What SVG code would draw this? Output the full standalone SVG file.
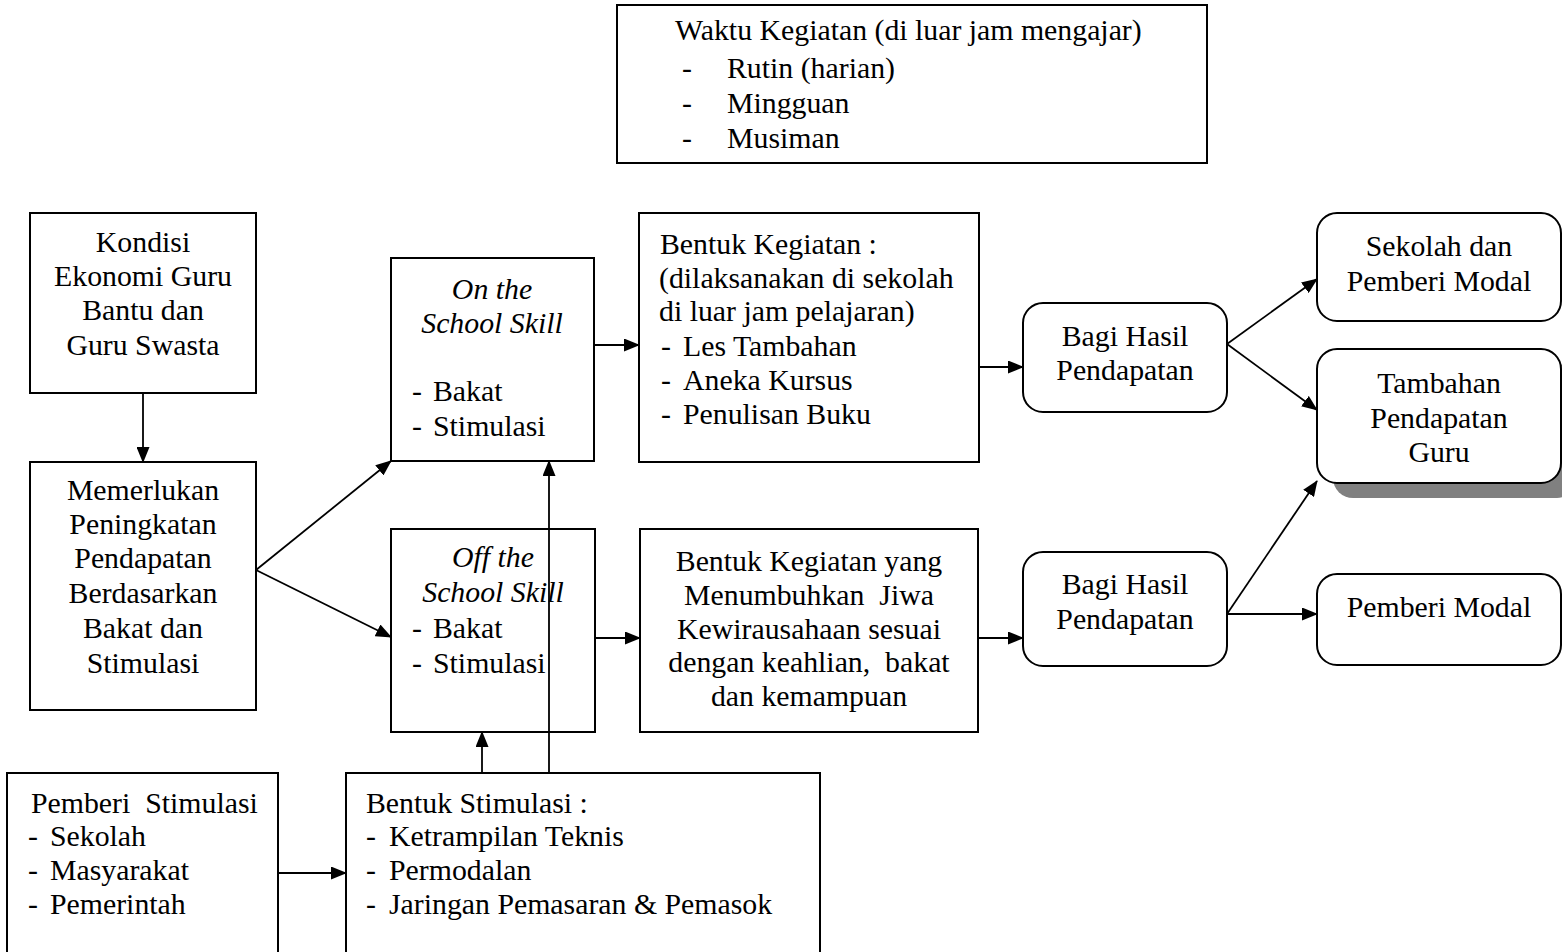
<svg xmlns="http://www.w3.org/2000/svg" width="1562" height="952" viewBox="0 0 1562 952">
<style>
text{font-family:"Liberation Serif","Times New Roman",serif;font-size:29.8px;fill:#000;white-space:pre}
.c{text-anchor:middle}
.i{font-style:italic}
.box{fill:#fff;stroke:#000;stroke-width:2}
.shadow{fill:#808080;stroke:none}
.conn path{fill:none;stroke:#000;stroke-width:1.8;marker-end:url(#arr)}
</style>
<defs>
<marker id="arr" markerUnits="userSpaceOnUse" markerWidth="16" markerHeight="13" viewBox="0 0 16 13" refX="15" refY="6.5" orient="auto">
<path d="M0,0 L16,6.5 L0,13 Z" fill="#000"/>
</marker>
</defs>
<rect width="1562" height="952" fill="#fff"/>

<g id="waktu">
<rect class="box" x="617" y="5" width="590" height="158"/>
<text x="675" y="40">Waktu Kegiatan (di luar jam mengajar)</text>
<text y="78"><tspan x="682">-</tspan><tspan x="727">Rutin (harian)</tspan></text>
<text y="113"><tspan x="682">-</tspan><tspan x="727">Mingguan</tspan></text>
<text y="148"><tspan x="682">-</tspan><tspan x="727">Musiman</tspan></text>
</g>

<g id="kondisi">
<rect class="box" x="30" y="213" width="226" height="180"/>
<text class="c" x="143" y="252">Kondisi</text>
<text class="c" x="143" y="286">Ekonomi Guru</text>
<text class="c" x="143" y="320">Bantu dan</text>
<text class="c" x="143" y="355">Guru Swasta</text>
</g>

<g id="memerlukan">
<rect class="box" x="30" y="462" width="226" height="248"/>
<text class="c" x="143" y="500">Memerlukan</text>
<text class="c" x="143" y="534">Peningkatan</text>
<text class="c" x="143" y="568">Pendapatan</text>
<text class="c" x="143" y="603">Berdasarkan</text>
<text class="c" x="143" y="638">Bakat dan</text>
<text class="c" x="143" y="673">Stimulasi</text>
</g>

<g id="on-school">
<rect class="box" x="391" y="258" width="203" height="203"/>
<text class="c i" x="492" y="299">On the</text>
<text class="c i" x="492" y="333">School Skill</text>
<text y="401"><tspan x="412">-</tspan><tspan x="433">Bakat</tspan></text>
<text y="436"><tspan x="412">-</tspan><tspan x="433">Stimulasi</tspan></text>
</g>

<g id="off-school">
<rect class="box" x="391" y="529" width="204" height="203"/>
<text class="c i" x="493" y="567">Off the</text>
<text class="c i" x="493" y="602">School Skill</text>
<text y="638"><tspan x="412">-</tspan><tspan x="433">Bakat</tspan></text>
<text y="673"><tspan x="412">-</tspan><tspan x="433">Stimulasi</tspan></text>
</g>

<g id="bentuk-kegiatan-1">
<rect class="box" x="639" y="213" width="340" height="249"/>
<text x="660" y="254">Bentuk Kegiatan :</text>
<text x="659" y="288">(dilaksanakan di sekolah</text>
<text x="659" y="321">di luar jam pelajaran)</text>
<text y="356"><tspan x="661">-</tspan><tspan x="683">Les Tambahan</tspan></text>
<text y="390"><tspan x="661">-</tspan><tspan x="683">Aneka Kursus</tspan></text>
<text y="424"><tspan x="661">-</tspan><tspan x="683">Penulisan Buku</tspan></text>
</g>

<g id="bentuk-kegiatan-2">
<rect class="box" x="640" y="529" width="338" height="203"/>
<text class="c" x="809" y="571">Bentuk Kegiatan yang</text>
<text class="c" x="809" y="605">Menumbuhkan  Jiwa</text>
<text class="c" x="809" y="639">Kewirausahaan sesuai</text>
<text class="c" x="809" y="672">dengan keahlian,  bakat</text>
<text class="c" x="809" y="706">dan kemampuan</text>
</g>

<g id="bagi-hasil-1">
<rect class="box" x="1023" y="303" width="204" height="109" rx="20"/>
<text class="c" x="1125" y="346">Bagi Hasil</text>
<text class="c" x="1125" y="380">Pendapatan</text>
</g>

<g id="bagi-hasil-2">
<rect class="box" x="1023" y="552" width="204" height="114" rx="20"/>
<text class="c" x="1125" y="594">Bagi Hasil</text>
<text class="c" x="1125" y="629">Pendapatan</text>
</g>

<g id="sekolah-modal">
<rect class="box" x="1317" y="213" width="244" height="108" rx="20"/>
<text class="c" x="1439" y="256">Sekolah dan</text>
<text class="c" x="1439" y="291">Pemberi Modal</text>
</g>

<g id="tambahan">
<rect class="shadow" x="1333" y="364" width="244" height="134" rx="20"/>
<rect class="box" x="1317" y="349" width="244" height="134" rx="20"/>
<text class="c" x="1439" y="393">Tambahan</text>
<text class="c" x="1439" y="428">Pendapatan</text>
<text class="c" x="1439" y="462">Guru</text>
</g>

<g id="pemberi-modal">
<rect class="box" x="1317" y="574" width="244" height="91" rx="20"/>
<text class="c" x="1439" y="617">Pemberi Modal</text>
</g>

<g id="pemberi-stimulasi">
<rect class="box" x="7" y="773" width="271" height="200"/>
<text x="31" y="813">Pemberi  Stimulasi</text>
<text y="846"><tspan x="28">-</tspan><tspan x="50">Sekolah</tspan></text>
<text y="880"><tspan x="28">-</tspan><tspan x="50">Masyarakat</tspan></text>
<text y="914"><tspan x="28">-</tspan><tspan x="50">Pemerintah</tspan></text>
</g>

<g id="bentuk-stimulasi">
<rect class="box" x="346" y="773" width="474" height="200"/>
<text x="366" y="813">Bentuk Stimulasi :</text>
<text y="846"><tspan x="366">-</tspan><tspan x="389">Ketrampilan Teknis</tspan></text>
<text y="880"><tspan x="366">-</tspan><tspan x="389">Permodalan</tspan></text>
<text y="914"><tspan x="366">-</tspan><tspan x="389">Jaringan Pemasaran &amp; Pemasok</tspan></text>
</g>

<g id="connectors" class="conn">
<path d="M143 393 L143 462"/>
<path d="M256 570 L391 461"/>
<path d="M256 570 L391 637"/>
<path d="M594 345 L639 345"/>
<path d="M595 638 L640 638"/>
<path d="M979 367 L1023 367"/>
<path d="M978 638 L1023 638"/>
<path d="M1227 344 L1317 279"/>
<path d="M1227 344 L1317 410"/>
<path d="M1227 614 L1317 481"/>
<path d="M1227 614 L1317 614"/>
<path d="M278 873 L346 873"/>
<path d="M482 773 L482 732"/>
<path d="M549 773 L549 461"/>
</g>
</svg>
